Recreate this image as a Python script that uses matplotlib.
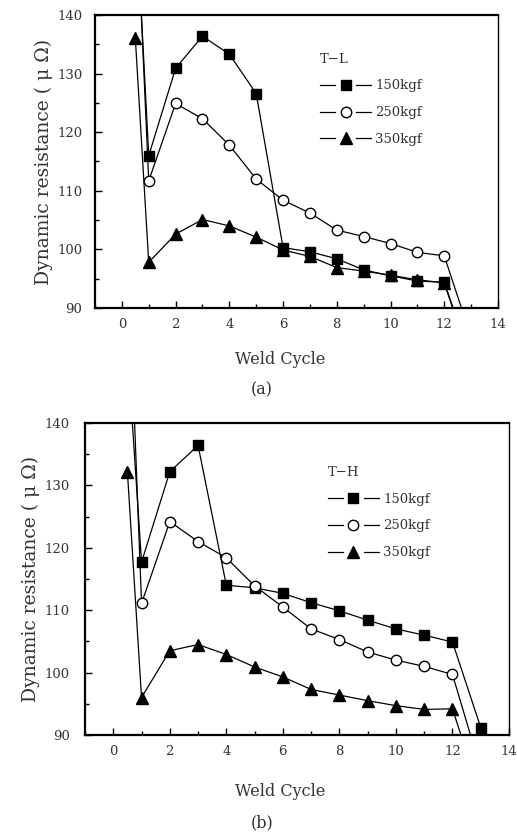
import matplotlib
matplotlib.use("Agg")
import matplotlib.pyplot as plt
from matplotlib.ticker import MultipleLocator
from matplotlib.legend_handler import HandlerBase
from matplotlib.lines import Line2D

plt.rcParams['font.family'] = ['DejaVu Serif']

cycles = [0.5, 1, 2, 3, 4, 5, 6, 7, 8, 9, 10, 11, 12, 13]
labels = ["150kgf", "250kgf", "350kgf"]

tl_150 = [160, 116.0, 130.9, 136.4, 133.3, 126.6, 100.3, 99.6, 98.4, 96.5, 95.5, 94.6, 94.4, 81]
tl_250 = [163, 111.7, 124.9, 122.3, 117.8, 112.0, 108.4, 106.2, 103.3, 102.2, 101.0, 99.5, 98.9, 85]
tl_350 = [136.1, 97.8, 102.6, 105.1, 104.0, 102.1, 99.9, 98.8, 96.9, 96.3, 95.6, 94.8, 94.3, 80.5]

th_150 = [152, 117.7, 132.2, 136.4, 114.0, 113.6, 112.7, 111.2, 109.9, 108.4, 107.0, 106.0, 104.9, 91.2]
th_250 = [170, 111.1, 124.2, 121.0, 118.4, 113.9, 110.5, 107.0, 105.3, 103.3, 102.0, 101.0, 99.7, 84.5]
th_350 = [132.2, 96.0, 103.5, 104.5, 102.9, 100.9, 99.3, 97.3, 96.4, 95.5, 94.7, 94.1, 94.2, 80.2]

txt = '#333333'
fig = plt.figure(figsize=(5.17, 8.36), dpi=100)

ax1 = fig.add_axes([95/517, 1-308/836, (498-95)/517, (308-15)/836])
ax2 = fig.add_axes([85/517, 1-735/836, (509-85)/517, (735-423)/836])

styles = [dict(marker='s', mfc='black', mec='black', ms=7),
          dict(marker='o', mfc='white', mec='black', ms=7.5, mew=1.0),
          dict(marker='^', mfc='black', mec='black', ms=8.5)]


class GapHandler(HandlerBase):
    def create_artists(self, legend, orig, xdescent, ydescent, width, height,
                       fontsize, trans):
        y = height / 2 - ydescent
        x0 = -xdescent
        gap = width * 0.21
        l1 = Line2D([x0, x0 + width / 2 - gap], [y, y], color='black', lw=0.9)
        l2 = Line2D([x0 + width / 2 + gap, x0 + width], [y, y], color='black', lw=0.9)
        m = Line2D([x0 + width / 2], [y], ls='none', marker=orig.get_marker(),
                   mfc=orig.get_markerfacecolor(), mec=orig.get_markeredgecolor(),
                   ms=orig.get_markersize(), mew=orig.get_markeredgewidth())
        for a in (l1, l2, m):
            a.set_transform(trans)
        return [l1, l2, m]


def draw(ax, series, title, leg_anchor, ypad):
    handles = []
    for ys, lab, st in zip(series, labels, styles):
        h, = ax.plot(cycles, ys, color='black', lw=0.9, label=lab, **st)
        handles.append(h)
    ax.set_xlim(-1, 14)
    ax.set_ylim(90, 140)
    ax.xaxis.set_major_locator(MultipleLocator(2))
    ax.xaxis.set_minor_locator(MultipleLocator(1))
    ax.yaxis.set_major_locator(MultipleLocator(10))
    ax.yaxis.set_minor_locator(MultipleLocator(5))
    ax.tick_params(which='both', direction='in', top=False, right=False,
                   labelsize=9.5, labelcolor=txt, width=1.0)
    ax.tick_params(which='major', length=5)
    ax.tick_params(which='minor', length=3)
    ax.tick_params(axis='y', pad=ypad)
    ax.tick_params(axis='x', pad=7)
    ax.spines['left'].set_linewidth(1.6)
    ax.spines['bottom'].set_linewidth(1.6)
    ax.spines['top'].set_linewidth(1.6)
    ax.spines['right'].set_linewidth(1.0)
    ax.set_ylabel("Dynamic resistance ( μ Ω)", fontsize=13.5, color=txt, labelpad=3)
    leg = ax.legend(handles=handles, loc='upper left', bbox_to_anchor=leg_anchor,
                    frameon=False, title=title, fontsize=9.5, title_fontsize=9.5,
                    handlelength=3.9, handletextpad=0.3, labelspacing=1.05,
                    borderaxespad=0, alignment='left',
                    handler_map={Line2D: GapHandler()})
    for t in leg.get_texts():
        t.set_color(txt)
    leg.get_title().set_color(txt)

draw(ax1, [tl_150, tl_250, tl_350], "T−L", (0.545, 0.89), 9)
draw(ax2, [th_150, th_250, th_350], "T−H", (0.56, 0.88), 11)

fig.text(280/517, 1-360/836, "Weld Cycle", ha='center', va='center', fontsize=11.5, color=txt)
fig.text(262/517, 1-390/836, "(a)", ha='center', va='center', fontsize=11.5, color=txt)
fig.text(280/517, 1-792/836, "Weld Cycle", ha='center', va='center', fontsize=11.5, color=txt)
fig.text(262/517, 1-823/836, "(b)", ha='center', va='center', fontsize=11.5, color=txt)

fig.savefig("out.png", dpi=100)
